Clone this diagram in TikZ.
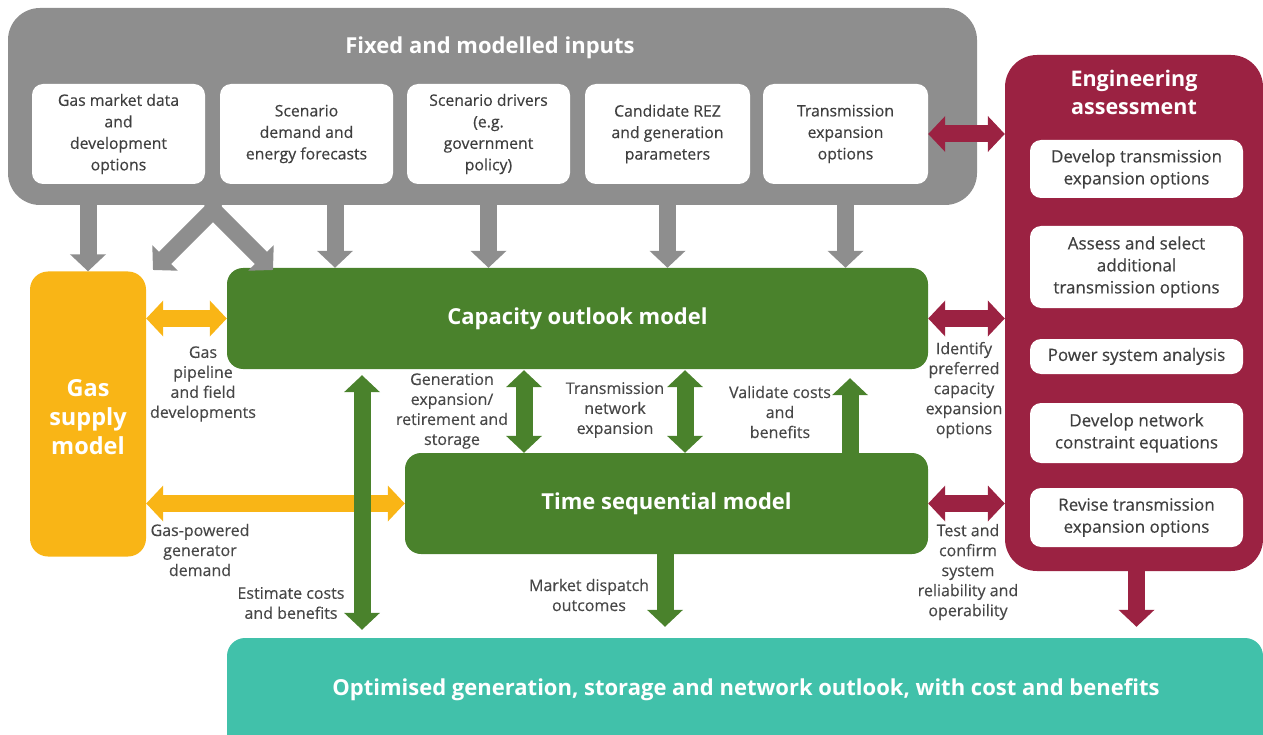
\documentclass[tikz,border=0pt]{standalone}
\usepackage{fontspec}
\setmainfont{Open Sans}
\newfontfamily\semib[FakeBold=0.35]{Open Sans}
\usepackage{xcolor}
\usetikzlibrary{arrows.meta,positioning,calc}

\definecolor{inpgrey}{HTML}{8E8E8E}
\definecolor{engred}{HTML}{9B2242}
\definecolor{gasyel}{HTML}{F9B516}
\definecolor{modgrn}{HTML}{4A822C}
\definecolor{outteal}{HTML}{41C1AA}
\definecolor{lbltxt}{HTML}{474747}
\definecolor{boxtxt}{HTML}{3F3F3F}

\begin{document}
\begin{tikzpicture}[x=1pt, y=-1pt,
  inpanel/.style={fill=inpgrey, rounded corners=32pt, inner sep=0pt},
  engpanel/.style={fill=engred, rounded corners=32pt, inner sep=0pt},
  card/.style={fill=white, rounded corners=11pt, align=center, inner sep=0pt,
               text=boxtxt, font=\semib\fontsize{15.8}{21.5}\selectfont},
  engcard/.style={card, minimum width=213pt, font=\semib\fontsize{17}{22}\selectfont},
  model/.style={fill=modgrn, rounded corners=16pt, inner sep=0pt, text=white,
                font=\bfseries\fontsize{22}{26}\selectfont},
  head/.style={text=white, align=center, inner sep=0pt,
               font=\bfseries\fontsize{22}{28}\selectfont},
  lbl/.style={text=lbltxt, align=center, inner sep=0pt,
              font=\semib\fontsize{16}{20}\selectfont},
  blk/.style={line width=17pt, >={Triangle[width=35pt,length=17pt]}}
]
\useasboundingbox (0,0) rectangle (1263,735);

% panels
\node[inpanel, minimum width=969pt, minimum height=197pt] (inputs) at (492.5,106.5) {};
\node[head] (intitle) at (490,48) {Fixed and modelled inputs};
\node[engpanel, minimum width=258pt, minimum height=516pt] (eng) at (1134,313) {};
\node[head, font=\bfseries\fontsize{21.5}{28}\selectfont] (engtitle) at (1134,92) {Engineering\\assessment};

% input cards
\node[card, minimum width=173pt, minimum height=100pt] (gasmkt) at (118.5,134) {Gas market data\\and\\development\\options};
\node[card, minimum width=173pt, minimum height=100pt] (sdem) at (306.5,134) {Scenario\\demand and\\energy forecasts};
\node[card, minimum width=163pt, minimum height=100pt] (sdrv) at (488.5,134) {Scenario drivers\\(e.g.\\government\\policy)};
\node[card, minimum width=165pt, minimum height=100pt] (rez) at (667.5,134) {Candidate REZ\\and generation\\parameters};
\node[card, minimum width=165pt, minimum height=100pt] (trx) at (845.5,134) {Transmission\\expansion\\options};

% engineering cards
\node[engcard, minimum height=58pt] (e1) at (1136.5,169) {Develop transmission\\expansion options};
\node[engcard, minimum height=82pt] (e2) at (1136.5,267) {Assess and select\\additional\\transmission options};
\node[engcard, minimum height=35pt] (e3) at (1136.5,356.5) {Power system analysis};
\node[engcard, minimum height=60pt] (e4) at (1136.5,433) {Develop network\\constraint equations};
\node[engcard, minimum height=59pt] (e5) at (1136.5,517.5) {Revise transmission\\expansion options};

% models
\node[fill=gasyel, rounded corners=18pt, minimum width=116pt, minimum height=285pt,
      text=white, align=center, font=\bfseries\fontsize{23.5}{29}\selectfont] (gassup) at (88,414) {};
\node[text=white, align=center, inner sep=0pt, font=\bfseries\fontsize{23.5}{29}\selectfont] (gastxt) at (88,417) {Gas\\supply\\model};
\node[model, minimum width=701pt, minimum height=101pt] (capacity) at (577.5,318.5) {Capacity outlook model};
\node[model, minimum width=523pt, minimum height=101pt] (timeseq) at (666.5,503.5) {Time sequential model};
\node[fill=outteal, rounded corners=18pt, minimum width=1036pt, minimum height=122pt] (outlook) at (745,699) {};
\node[head] (outtxt) at (746,690) {Optimised generation, storage and network outlook, with cost and benefits};

% arrow positions
\coordinate (fork) at (213,210);
\coordinate (forkl) at (153,270);
\coordinate (forkr) at (273,270);
\coordinate (dem) at (335,205);
\coordinate (est) at (362,0);
\coordinate (gen) at (524,0);
\coordinate (net) at (685,0);
\coordinate (val) at (850,0);
\coordinate (mkt) at (665,0);

% inputs
\draw[blk, inpgrey, ->] ([yshift=2pt]inputs.south -| gassup) -- (gassup.north);
\draw[blk, inpgrey, ->] ([yshift=2pt]inputs.south -| fork) -- (fork) -- (forkl);
\draw[blk, inpgrey, ->] ([yshift=2pt]inputs.south -| fork) -- (fork) -- (forkr);
\draw[blk, inpgrey, ->] ([yshift=2pt]dem) -- (dem |- capacity.north);
\draw[blk, inpgrey, ->] ([yshift=2pt]inputs.south -| sdrv) -- (sdrv |- capacity.north);
\draw[blk, inpgrey, ->] ([yshift=2pt]inputs.south -| rez) -- (rez |- capacity.north);
\draw[blk, inpgrey, ->] ([yshift=2pt]inputs.south -| trx) -- (trx |- capacity.north);

% engineering
\draw[blk, engred, <->] (trx.east) -- (trx.east -| eng.west);
\draw[blk, engred, <->] (capacity.east) -- (capacity.east -| eng.west);
\draw[blk, engred, <->] (timeseq.east) -- (timeseq.east -| eng.west);
\draw[blk, engred, ->] ([yshift=2pt]eng.south -| e5) -- ([yshift=11pt]outlook.north -| e5);

% gas
\draw[blk, gasyel, <->] (gassup.east |- capacity.west) -- (capacity.west);
\draw[blk, gasyel, <->] (gassup.east |- timeseq.west) -- (timeseq.west);

% models
\draw[blk, modgrn, <->] ([yshift=-6pt]capacity.south -| est) -- ([yshift=8pt]outlook.north -| est);
\draw[blk, modgrn, <->] ([yshift=-1pt]capacity.south -| gen) -- (timeseq.north -| gen);
\draw[blk, modgrn, <->] ([yshift=-1pt]capacity.south -| net) -- (timeseq.north -| net);
\draw[blk, modgrn, ->] (timeseq.north -| val) -- ([yshift=-9pt]capacity.south -| val);
\draw[blk, modgrn, ->] (timeseq.south -| mkt) -- ([yshift=11pt]outlook.north -| mkt);

% labels
\node[lbl] (lpipe) at (203,384) {Gas\\pipeline\\and field\\developments};
\node[lbl] (lpower) at (200,550) {Gas-powered\\generator\\demand};
\node[lbl] (lest) at (291,603) {Estimate costs\\and benefits};
\node[lbl] (lgen) at (452,411) {Generation\\expansion/\\retirement and\\storage};
\node[lbl] (lnet) at (615,410) {Transmission\\network\\expansion};
\node[lbl] (lval) at (780,412) {Validate costs\\and\\benefits};
\node[lbl] (lmkt) at (589,595) {Market dispatch\\outcomes};
\node[lbl] (lident) at (964,390) {Identify\\preferred\\capacity\\expansion\\options};
\node[lbl] (ltest) at (968,572) {Test and\\confirm\\system\\reliability and\\operability};
\end{tikzpicture}
\end{document}
